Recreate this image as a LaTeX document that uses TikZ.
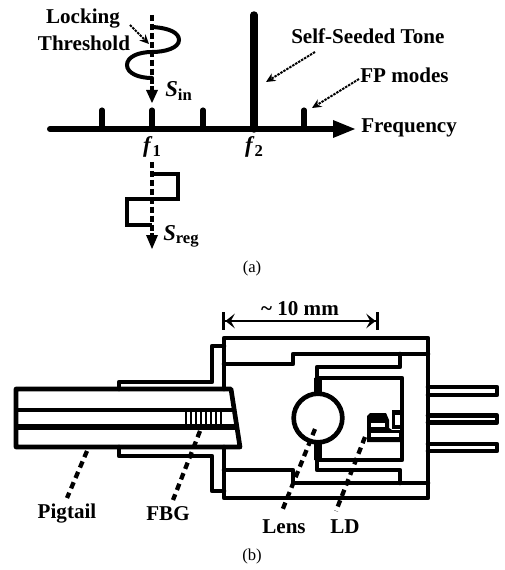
\documentclass[tikz,border=0pt]{standalone}
\usepackage{fontspec}
\setmainfont{Liberation Serif}
\usetikzlibrary{arrows.meta}
\tikzset{
  lab/.style={font=\fontsize{15.8}{18}\selectfont\bfseries,inner sep=0pt,align=center},
  captext/.style={font=\fontsize{12.5}{15}\selectfont,inner sep=0pt},
  hull/.style={line width=3.5pt,line join=round,line cap=round},
  axisline/.style={line width=4.5pt,line cap=round},
  tickmark/.style={line width=3.8pt,line cap=round},
  centerline/.style={line width=3pt,dash pattern=on 4.5pt off 2.2pt},
  pointer/.style={line width=1.5pt,dash pattern=on 1.8pt off 0.8pt,-{Stealth[length=7pt,width=6.5pt]}},
  leader/.style={line width=3.2pt,dash pattern=on 5pt off 3.5pt},
  dimline/.style={line width=1.9pt,arrows={Bar[width=13pt,line width=2.6pt]Stealth[length=7pt,width=11pt,inset=3pt]-Stealth[length=7pt,width=11pt,inset=3pt]Bar[width=13pt,line width=2.6pt]}}
}
\newcommand{\subs}[1]{\raisebox{-2.5pt}{\fontsize{12.5}{15}\selectfont #1}}
\begin{document}
\begin{tikzpicture}[x=0.75pt,y=-0.75pt]
\useasboundingbox (0,0) rectangle (505,570);
\fill[white] (0,0) rectangle (505,570);
% --- part (a) coordinates
\coordinate (axL) at (50,129);
\coordinate (axR) at (355,129);
\coordinate (inTop) at (152,15);
\coordinate (inTip) at (152,103);
\coordinate (regTop) at (152,162);
\coordinate (regTip) at (152,249);
% curve S_in
\draw[line width=3pt,line cap=round] (152,27) .. controls (170,28) and (179,33) .. (179,40)
  .. controls (179,48) and (165,52) .. (152,52)
  .. controls (138,52) and (127,57) .. (127,65)
  .. controls (127,73) and (138,78) .. (152,78);
\draw[centerline] (inTop) -- (152,92);
\fill (146,90) -- (158,90) -- (inTip) -- cycle;
% S_reg curve
\draw[line width=3pt,line join=miter] (152,174) -- (178,174) -- (178,199) -- (127,199) -- (127,225) -- (152,225);
\draw[centerline] (regTop) -- (152,236);
\fill (146,235) -- (158,235) -- (regTip) -- cycle;
% axis
\draw[axisline] (axL) -- (342,129);
\fill (333,120) -- (355,129) -- (333,138) -- cycle;
\draw[tickmark] (102,129) -- (102,110);
\draw[tickmark] (152,129) -- (152,110);
\draw[tickmark] (203,129) -- (203,110);
\draw[tickmark] (304,129) -- (304,110);
\draw[line width=5.6pt,line cap=round] (254,129) -- (254,15);
% labels (a)
\node[lab] (lock) at (83,19) {Locking};
\node[lab] (thr) at (84,43) {Threshold};
\node[lab,anchor=west] (tone) at (291,36) {Self-Seeded Tone};
\node[lab,anchor=west] (fp) at (360,75) {FP modes};
\node[lab,anchor=west] (freq) at (361,128) {Frequency};
\node[lab,anchor=base] (f1) at (152,153) {{\fontsize{17}{18}\selectfont\textit{f}}\subs{1}};
\node[lab,anchor=base] (f2) at (254,153) {{\fontsize{17}{18}\selectfont\textit{f}}\subs{2}};
\node[lab,anchor=base west] (sin) at (165,97) {{\fontsize{17}{18}\selectfont\textit{S}}\subs{in}};
\node[lab,anchor=base west] (sreg) at (163,240) {{\fontsize{17}{18}\selectfont\textit{S}}\subs{reg}};
\node[captext] (capa) at (252,268) {(a)};
% pointers
\coordinate (p1a) at (130,25); \coordinate (p1b) at (149,44);
\coordinate (p2a) at (315,52); \coordinate (p2b) at (266,82);
\coordinate (p3a) at (359,79); \coordinate (p3b) at (312,108);
\draw[pointer] (p1a) -- (p1b);
\draw[pointer] (p2a) -- (p2b);
\draw[pointer] (p3a) -- (p3b);
% dimension
\coordinate (dimL) at (222,321); \coordinate (dimR) at (379,321);
\draw[dimline] (dimL) -- (dimR);
\node[lab] (dimt) at (300,309) {\textasciitilde{} 10 mm};
% --- part (b)
% body
\draw[hull] (224,389) -- (224,338) -- (428,338) -- (428,498) -- (224,498) -- (224,447);
\draw[hull] (224,364) -- (293,364) -- (293,354) -- (428,354);
\draw[hull] (224,470) -- (293,470) -- (293,483) -- (428,483);
% stepped flange
\draw[hull] (119,389) -- (119,382) -- (212,382) -- (212,346) -- (224,346);
\draw[hull] (119,447) -- (119,456) -- (212,456) -- (212,491) -- (224,491);
% pigtail
\draw[hull] (16,389) -- (231,389) -- (240,447) -- (16,447) -- cycle;
\draw[hull,line cap=butt] (16,410) -- (234,410);
\draw[hull,line width=4pt,line cap=butt] (16,427) -- (236,427);
% FBG
\foreach \x in {186,191,...,221}{\draw[line width=2pt] (\x,410) -- (\x,427);}
% inner can
\draw[hull] (400,354) -- (400,367) -- (317,367) -- (317,395);
\draw[hull] (317,378) -- (402,378) -- (402,460) -- (317,460);
\draw[hull] (317,440) -- (317,470) -- (400,470) -- (400,483);
\draw[line width=6pt] (318,378) -- (318,396);
\draw[line width=6pt] (318,440) -- (318,460);
% lens
\node[draw,circle,line width=3.5pt,fill=white,minimum size=36.5pt,inner sep=0pt] (lens) at (318,418) {};
% LD
\fill (367,416) -- (370,413) -- (386,413) -- (389,420) -- (389,428) -- (392,430) -- (402,430) -- (402,442) -- (367,442) -- cycle;
\fill[white] (371,423) rectangle (385,427);
\fill[white] (371,433) rectangle (399,437);
\fill (392,410) rectangle (402,429);
\fill[white] (395,415) rectangle (400,425);
% pins
\draw[hull] (428,387) -- (497,387) -- (497,395) -- (428,395);
\draw[hull] (428,415.5) -- (497,415.5) -- (497,422.5) -- (428,422.5);
\draw[hull] (428,444) -- (497,444) -- (497,451) -- (428,451);
% leaders
\coordinate (l1a) at (87,451); \coordinate (l1b) at (67,498);
\coordinate (l2a) at (200,431); \coordinate (l2b) at (173,500);
\coordinate (l3a) at (315,429); \coordinate (l3b) at (282,511);
\coordinate (l4a) at (365,437); \coordinate (l4b) at (336,511);
\draw[leader] (l1a) -- (l1b);
\draw[leader] (l2a) -- (l2b);
\draw[leader] (l3a) -- (l3b);
\draw[leader] (l4a) -- (l4b);
\node[lab] (pig) at (67,514) {Pigtail};
\node[lab] (fbg) at (168,514) {FBG};
\node[lab] (lenst) at (284,527) {Lens};
\node[lab] (ld) at (345,527) {LD};
\node[captext] (capb) at (252,556) {(b)};
\end{tikzpicture}
\end{document}
